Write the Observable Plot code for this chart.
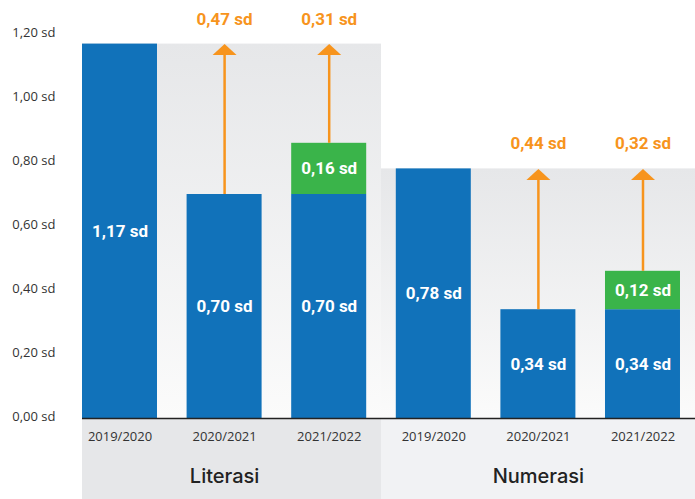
<!DOCTYPE html>
<html>
<head>
<meta charset="utf-8">
<script src="https://cdn.jsdelivr.net/npm/d3@7"></script>
<script src="https://cdn.jsdelivr.net/npm/@observablehq/plot@0.6"></script>
<style>
  html, body { margin: 0; padding: 0; background: #fff; }
  #chart { width: 695px; height: 499px; }
</style>
</head>
<body>
<div id="chart"></div>
<script>
// ---- data ----
const groups = ["Literasi", "Literasi", "Literasi", "Numerasi", "Numerasi", "Numerasi"];
const years = ["2019/2020", "2020/2021", "2021/2022", "2019/2020", "2020/2021", "2021/2022"];
const baseValues = [1.17, 0.70, 0.70, 0.78, 0.34, 0.34];
const recoveryValues = [0, 0, 0.16, 0, 0, 0.12];
const gapValues = [null, 0.47, 0.31, null, 0.44, 0.32];
const yTicks = [0, 0.2, 0.4, 0.6, 0.8, 1.0, 1.2];

const BLUE = "#1172BA", GREEN = "#3AB44A", ORANGE = "#F7941D";
const fmt = v => v.toFixed(2).replace(".", ",") + " sd";
const condensed = "'Liberation Sans Narrow', 'Arial Narrow', Roboto, sans-serif";

const rows = years.map((y, i) => ({
  i, group: groups[i], year: y, base: baseValues[i], rec: recoveryValues[i], gap: gapValues[i],
  ref: baseValues[groups.indexOf(groups[i])]
}));
const groupNames = [...new Set(groups)];
const half = 0.3585;
const xMax = years.length - 1 + 0.502;
const groupRows = groupNames.map((g, k) => {
  const idx = rows.filter(r => r.group === g).map(r => r.i);
  const lo = d3.min(idx), hi = d3.max(idx);
  return {
    group: g, mid: idx[Math.floor(idx.length / 2)], top: baseValues[lo],
    x1: k === 0 ? lo - half : lo - 0.5,
    x2: hi === years.length - 1 ? xMax : hi + 0.5
  };
});
const gapRows = rows.filter(r => r.gap != null);
const recRows = rows.filter(r => r.rec > 0);

const arrowHead = {
  draw(ctx) { ctx.moveTo(0, 0); ctx.lineTo(12, 11); ctx.lineTo(-12, 11); ctx.closePath(); }
};

const plot = Plot.plot({
  width: 695, height: 499,
  marginLeft: 82, marginRight: 0, marginTop: 34, marginBottom: 81,
  style: { background: "transparent", overflow: "visible" },
  x: { type: "linear", domain: [-half, xMax] },
  y: { domain: [0, 1.2] },
  marks: [
    // backgrounds above axis (gradient)
    Plot.rect(groupRows, { x1: "x1", x2: "x2", y1: 0, y2: "top", fill: "url(#bgGrad)" }),
    // backgrounds below axis
    Plot.rect(groupRows, {
      x1: "x1", x2: "x2", y1: 0, y2: -0.26,
      fill: d => d.group === "Literasi" ? "#E6E7E9" : "#F1F2F4"
    }),
    // bars
    Plot.rect(rows, { x1: d => d.i - half, x2: d => d.i + half, y1: 0, y2: "base", fill: BLUE }),
    Plot.rect(recRows, { x1: d => d.i - half, x2: d => d.i + half, y1: "base", y2: d => d.base + d.rec, fill: GREEN }),
    // arrows
    Plot.ruleX(gapRows, { x: "i", y1: d => d.base + d.rec, y2: d => d.ref - 0.02, stroke: ORANGE, strokeWidth: 2.5 }),
    Plot.dot(gapRows, { x: "i", y: "ref", symbol: arrowHead, fill: ORANGE, stroke: null }),
    Plot.text(gapRows, {
      x: "i", y: "ref", text: d => fmt(d.gap), dy: -25, fill: ORANGE,
      fontSize: 17, fontWeight: "bold", fontFamily: condensed
    }),
    // labels inside bars
    Plot.text(rows, {
      x: "i", y: d => d.base / 2, text: d => fmt(d.base), fill: "white",
      fontSize: 17, fontWeight: "bold", fontFamily: condensed
    }),
    Plot.text(recRows, {
      x: "i", y: d => d.base + d.rec / 2, text: d => fmt(d.rec), fill: "white",
      fontSize: 17, fontWeight: "bold", fontFamily: condensed
    }),
    // axis line
    Plot.ruleY([0], { stroke: "#222", strokeWidth: 1.5 }),
    // axes
    Plot.axisY({
      ticks: yTicks, tickSize: 0, tickPadding: 27, tickFormat: fmt, dy: -2,
      fontSize: 13, fontFamily: "'Open Sans', sans-serif", fill: "#333", label: null
    }),
    Plot.axisX({
      ticks: d3.range(years.length), tickSize: 0, tickPadding: 13, tickFormat: i => years[i],
      fontSize: 13, fontFamily: "'Open Sans', sans-serif", fill: "#333", label: null
    }),
    Plot.text(groupRows, {
      x: "mid", text: "group", frameAnchor: "bottom", dy: 64,
      fontSize: 20, fontWeight: 500, fontFamily: "Inter, 'Open Sans', sans-serif", fill: "#222"
    })
  ]
});

const svg = d3.select(plot);
const defs = svg.insert("defs", ":first-child");
const grad = defs.append("linearGradient").attr("id", "bgGrad")
  .attr("x1", 0).attr("y1", 0).attr("x2", 0).attr("y2", 1);
grad.append("stop").attr("offset", "0%").attr("stop-color", "#E6E7E9");
grad.append("stop").attr("offset", "100%").attr("stop-color", "#FBFBFB");

document.getElementById("chart").appendChild(plot);
</script>
</body>
</html>
